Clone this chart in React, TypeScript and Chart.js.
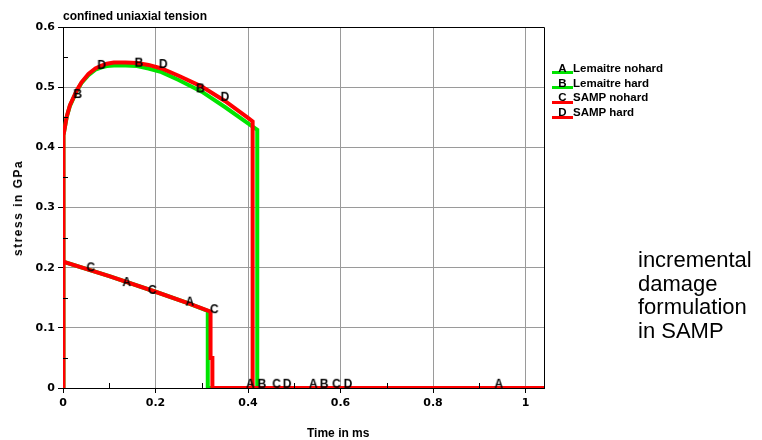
import React, { useEffect, useRef } from "react";
import { Chart, registerables } from "chart.js";

Chart.register(...registerables);

// ---- data (time in ms, stress in GPa) ----
const samphardTime = [0, 0, 0.002, 0.008, 0.015, 0.03, 0.04, 0.055, 0.07, 0.0835, 0.095, 0.11, 0.135, 0.16, 0.185, 0.213, 0.25, 0.3, 0.35, 0.4, 0.41, 0.41, 1.04];
const samphardStress = [0, 0.39, 0.42, 0.451, 0.47, 0.495, 0.508, 0.522, 0.531, 0.536, 0.539, 0.541, 0.541, 0.54, 0.537, 0.531, 0.519, 0.501, 0.477, 0.449, 0.443, 0, 0];

const lemhardTime = [0, 0, 0.002, 0.008, 0.015, 0.03, 0.04, 0.055, 0.07, 0.0835, 0.095, 0.11, 0.135, 0.16, 0.185, 0.213, 0.25, 0.3, 0.35, 0.4, 0.42, 0.42, 1.04];
const lemhardStress = [0, 0.39, 0.42, 0.45, 0.469, 0.494, 0.507, 0.52, 0.529, 0.533, 0.535, 0.536, 0.536, 0.535, 0.531, 0.525, 0.512, 0.4925, 0.467, 0.44, 0.429, 0, 0];

const sampnohardTime = [0, 0, 0.1, 0.2, 0.27, 0.319, 0.319, 0.323, 0.323, 1.04];
const sampnohardStress = [0, 0.21, 0.186, 0.16, 0.141, 0.127, 0.05, 0.05, 0, 0];

const lemnohardTime = [0, 0, 0.1, 0.2, 0.27, 0.313, 0.313, 1.04];
const lemnohardStress = [0, 0.21, 0.186, 0.16, 0.141, 0.128, 0, 0];

// curve identification letters
const markATime = [0.1375, 0.274, 0.405, 0.541, 0.942];
const markAStress = [0.176, 0.1435, 0.007, 0.007, 0.007];
const markBTime = [0.0317, 0.164, 0.297, 0.43, 0.5645];
const markBStress = [0.4886, 0.5407, 0.498, 0.007, 0.007];
const markCTime = [0.0598, 0.193, 0.327, 0.4615, 0.591];
const markCStress = [0.2006, 0.163, 0.131, 0.007, 0.007];
const markDTime = [0.0835, 0.2167, 0.35, 0.4845, 0.616];
const markDStress = [0.537, 0.5385, 0.484, 0.007, 0.007];

const legendLetters = ["A", "B", "C", "D"];
const legendLabels = ["Lemaitre nohard", "Lemaitre hard", "SAMP nohard", "SAMP hard"];

const xMinorTicks = [0.1, 0.3, 0.5, 0.7, 0.9];
const yMinorTicks = [0.05, 0.15, 0.25, 0.35, 0.45, 0.55];

const RED = "#ff0000";
const GREEN = "#00e400";
const legendColors = [GREEN, GREEN, RED, RED];

const SANS = '"Liberation Sans", Arial, Helvetica, sans-serif';

function pts(xs: number[], ys: number[]) {
  return xs.map((x, i) => ({ x, y: ys[i] }));
}

function fmtTick(v: number | string) {
  const n = Math.round(Number(v) * 100) / 100;
  return String(n);
}

function letterImage(letter: string) {
  const c = document.createElement("canvas");
  c.width = 12;
  c.height = 14;
  const g = c.getContext("2d")!;
  g.font = `bold 12px ${SANS}`;
  g.textAlign = "center";
  g.textBaseline = "middle";
  g.fillStyle = "#000";
  g.fillText(letter, 6, 7.5);
  return c;
}

const framePlugin = {
  id: "frameAndMinor",
  afterDatasetsDraw(chart: any) {
    const { ctx, chartArea: a, scales } = chart;
    ctx.save();
    ctx.strokeStyle = "#000";
    ctx.lineWidth = 1;
    ctx.beginPath();
    ctx.moveTo(a.left, Math.round(a.top) + 0.5);
    ctx.lineTo(Math.round(a.right) + 0.5, Math.round(a.top) + 0.5);
    ctx.lineTo(Math.round(a.right) + 0.5, a.bottom);
    for (const v of yMinorTicks) {
      const py = Math.round(scales.y.getPixelForValue(v)) + 0.5;
      ctx.moveTo(a.left, py);
      ctx.lineTo(a.left + 5, py);
    }
    for (const v of xMinorTicks) {
      const px = Math.round(scales.x.getPixelForValue(v)) + 0.5;
      ctx.moveTo(px, a.bottom);
      ctx.lineTo(px, a.bottom - 5);
    }
    ctx.stroke();
    ctx.restore();
  },
};

export default function App() {
  const ref = useRef<HTMLCanvasElement>(null);

  useEffect(() => {
    if (!ref.current) return;
    const imgs = legendLetters.map(letterImage);
    const marker = (xs: number[], ys: number[], img: HTMLCanvasElement) => ({
      data: pts(xs, ys),
      showLine: false,
      pointStyle: img,
      pointRadius: 6,
      borderColor: "#000",
      backgroundColor: "#000",
      clip: false as any,
    });
    const line = (xs: number[], ys: number[], color: string) => ({
      data: pts(xs, ys),
      borderColor: color,
      backgroundColor: color,
      borderWidth: 4,
      pointRadius: 0,
      tension: 0,
      fill: false,
    });
    const tickFont = { family: '"DejaVu Sans", sans-serif', size: 11, weight: "bold" as const };
    const chart = new Chart(ref.current, {
      type: "line",
      data: {
        datasets: [
          marker(markATime, markAStress, imgs[0]),
          marker(markBTime, markBStress, imgs[1]),
          marker(markCTime, markCStress, imgs[2]),
          marker(markDTime, markDStress, imgs[3]),
          line(samphardTime, samphardStress, RED),
          line(sampnohardTime, sampnohardStress, RED),
          line(lemhardTime, lemhardStress, GREEN),
          line(lemnohardTime, lemnohardStress, GREEN),
        ] as any,
      },
      options: {
        animation: false,
        responsive: false,
        events: [],
        layout: { padding: { left: 0, top: 27, right: 218, bottom: 0 } },
        plugins: {
          legend: { display: false },
          tooltip: { enabled: false },
          title: { display: false },
        },
        scales: {
          x: {
            type: "linear",
            min: 0,
            max: 1.04,
            afterFit: (s: any) => {
              s.height = 52;
            },
            ticks: {
              stepSize: 0.2,
              includeBounds: false,
              autoSkip: false,
              maxRotation: 0,
              color: "#000",
              padding: 4,
              font: tickFont,
              callback: (v: any) => fmtTick(v),
            },
            grid: { color: "#9a9a9a", tickColor: "#000", tickLength: 5, lineWidth: 1 },
            border: { color: "#000", width: 1 },
          },
          y: {
            type: "linear",
            min: 0,
            max: 0.6,
            afterFit: (s: any) => {
              s.width = 63;
            },
            ticks: {
              stepSize: 0.1,
              includeBounds: false,
              color: "#000",
              padding: 3,
              font: tickFont,
              callback: (v: any) => fmtTick(v),
            },
            grid: { color: "#9a9a9a", tickColor: "#000", tickLength: 5, lineWidth: 1 },
            border: { color: "#000", width: 1 },
          },
        },
      },
      plugins: [framePlugin],
    });
    return () => chart.destroy();
  }, []);

  const bold12: React.CSSProperties = {
    position: "absolute",
    fontFamily: SANS,
    fontWeight: "bold",
    fontSize: 12,
    lineHeight: "14px",
    whiteSpace: "nowrap",
    color: "#000",
  };

  return (
    <div style={{ position: "fixed", left: 0, top: 0, width: 762, height: 440, background: "#fff" }}>
      <canvas ref={ref} width={762} height={440} style={{ position: "absolute", left: 0, top: 0, display: "block" }} />
      <div style={{ ...bold12, left: 63, top: 9 }}>confined uniaxial tension</div>
      <div style={{ ...bold12, left: 307, top: 426 }}>Time in ms</div>
      <div
        style={{
          ...bold12,
          left: 18,
          top: 208,
          letterSpacing: "1.5px",
          transform: "translate(-50%, -50%) rotate(-90deg)",
        }}
      >
        stress in GPa
      </div>
      {legendLabels.map((lab, i) => (
        <div
          key={lab}
          style={{ ...bold12, fontSize: 11.5, left: 552, top: 60.7 + i * 14.8 }}
        >
          <span style={{ position: "relative", display: "inline-block", width: 21, textAlign: "center" }}>
            <span
              style={{
                position: "absolute",
                left: 0,
                right: 0,
                top: 10.5,
                height: 3,
                background: legendColors[i],
              }}
            />
            <span style={{ position: "relative" }}>{legendLetters[i]}</span>
          </span>
          {lab}
        </div>
      ))}
      <div
        style={{
          position: "absolute",
          left: 638,
          top: 248,
          fontFamily: SANS,
          fontSize: 22,
          lineHeight: "23.7px",
          color: "#000",
          whiteSpace: "nowrap",
        }}
      >
        incremental
        <br />
        damage
        <br />
        formulation
        <br />
        in SAMP
      </div>
    </div>
  );
}
